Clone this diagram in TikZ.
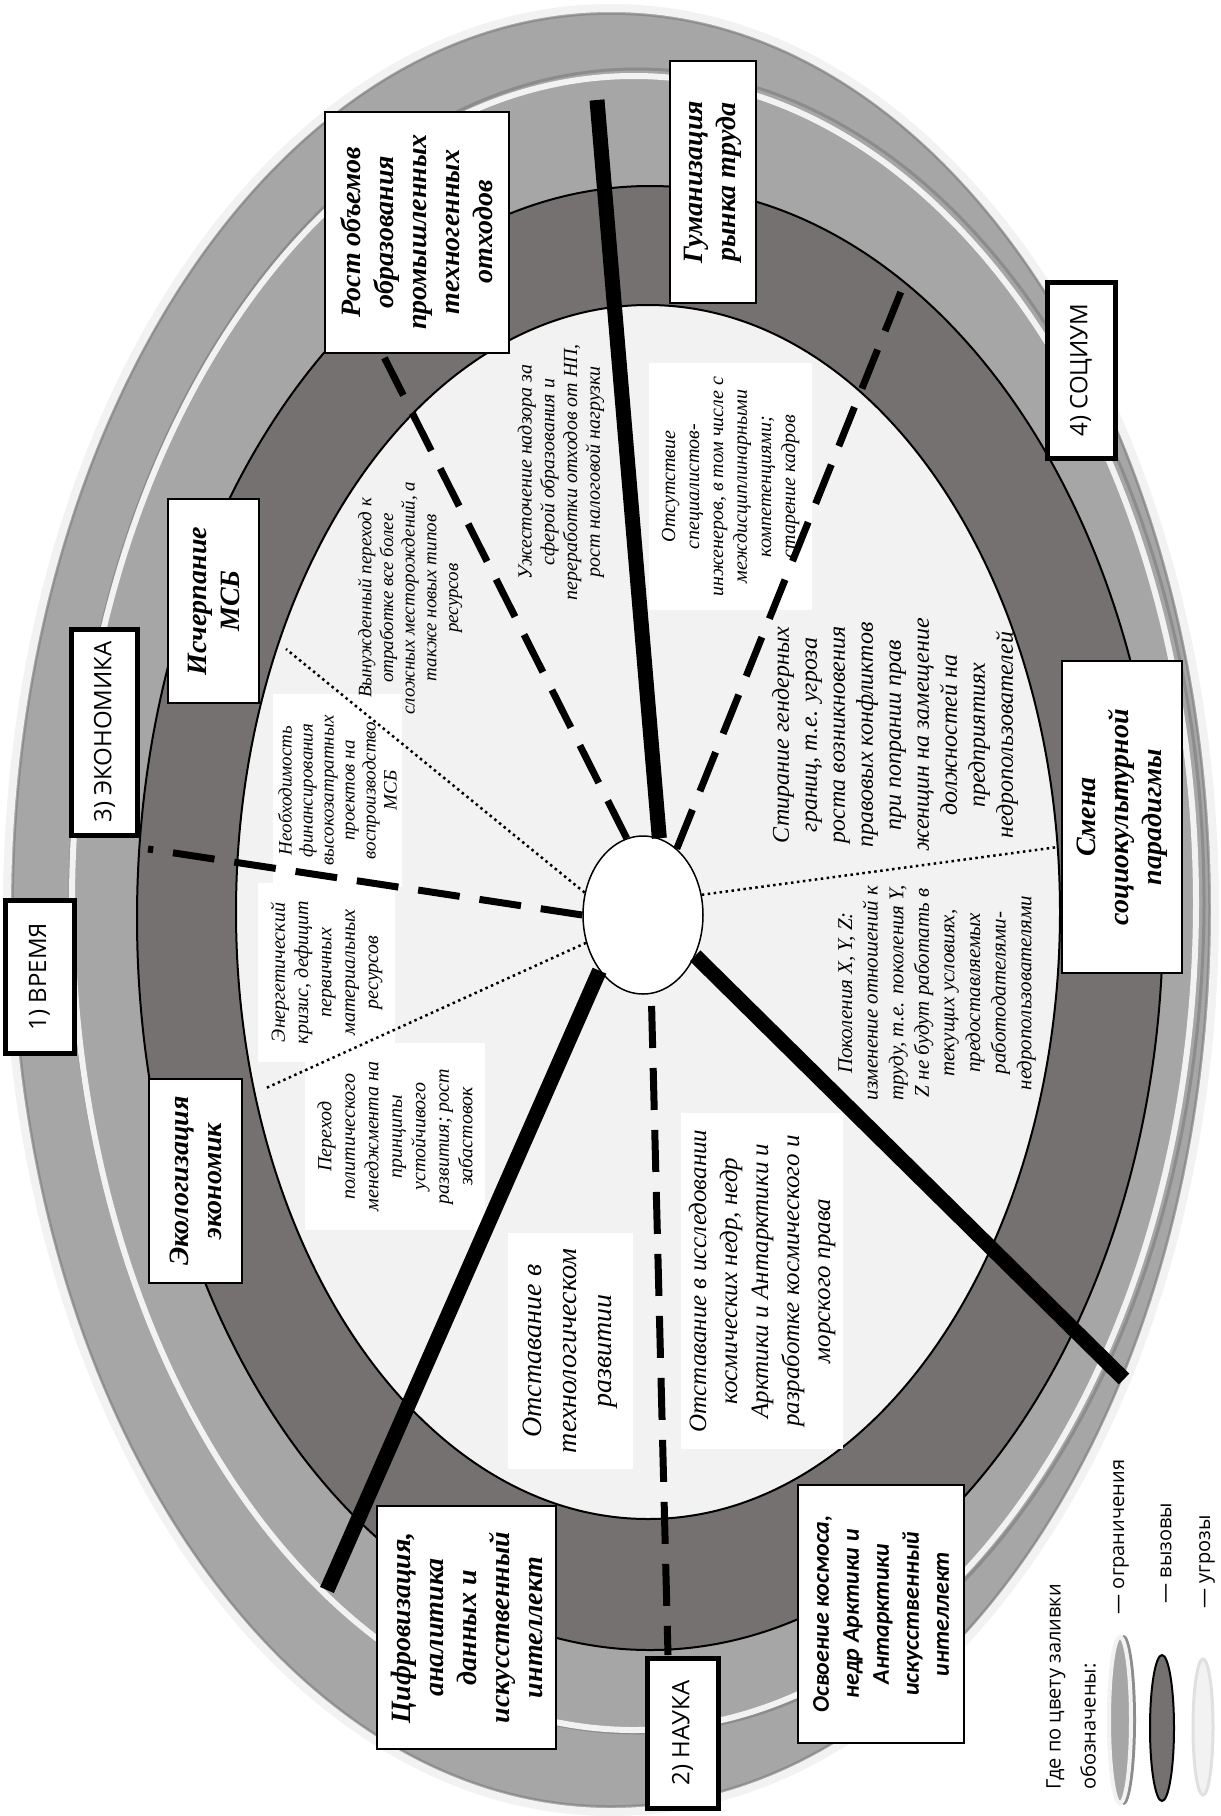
\documentclass[tikz,border=0pt]{standalone}
\usepackage{fontspec}
\setmainfont{Liberation Serif}
\setsansfont{Open Sans}
\newfontfamily\carlito{Carlito}
\usetikzlibrary{shapes.geometric}

\definecolor{limitgray}{HTML}{A6A6A6}
\definecolor{limitedge}{HTML}{F2F2F2}
\definecolor{limitshade}{HTML}{8C8C8C}
\definecolor{challenge}{HTML}{767171}
\definecolor{threat}{HTML}{F2F2F2}

\begin{document}
\begin{tikzpicture}[x=1pt,y=-1pt,
    ringstyle/.style={fill=limitgray,draw=limitedge,line width=8pt},
    hdrbox/.style={draw,line width=2pt,fill=white,rotate=90,align=center,inner sep=0pt,
      font=\fontsize{28}{33}\selectfont\bfseries\itshape},
    catbox/.style={draw,line width=5pt,fill=white,rotate=90,inner sep=0pt,
      font=\fontsize{24}{28}\selectfont\sffamily},
    notebox/.style={fill=white,rotate=90,align=center,inner sep=0pt},
    freetext/.style={rotate=90,align=center,inner sep=0pt},
    solidbar/.style={line width=15pt},
    dashbar/.style={line width=7pt,dash pattern=on 42pt off 20pt},
    dotbar/.style={line width=2.5pt,dash pattern=on 2.5pt off 3.5pt}
  ]

  % page
  \useasboundingbox (0,0) rectangle (1221,1816);
  \fill[white] (0,0) rectangle (1221,1816);

  % restrictions: outer rings
  \draw[ringstyle] (611,910) ellipse (604 and 902);
  \draw[limitshade,line width=1.5pt] (611,910) ellipse (598 and 896);
  \draw[limitshade,line width=3pt] (637,901) ellipse (567 and 832);
  \draw[ringstyle,line width=6pt] (634,903) ellipse (562 and 827);

  % challenges ring and threats disc
  \draw[fill=challenge,line width=2pt] (650,918) ellipse (513 and 732);
  \draw[fill=threat,line width=2pt] (648,912) ellipse (412 and 607);

  % threats: texts in the disc
  \node[notebox,minimum width=193pt,minimum height=129pt,font=\fontsize{19}{21}\selectfont\itshape] (funding) at (337.5,790.5)
    {Необходимость\\финансирования\\высокозатратных\\проектов на\\воспроизводство\\МСБ};
  \node[notebox,minimum width=179pt,minimum height=137pt,font=\fontsize{20}{23.3}\selectfont\itshape] (energy) at (326.5,972.5)
    {Энергетический\\кризис, дефицит\\первичных\\материальных\\ресурсов};
  \node[notebox,minimum width=187pt,minimum height=180pt,font=\fontsize{20}{23.5}\selectfont\itshape] (politics) at (395,1136.5)
    {Переход\\политического\\менеджмента на\\принципы\\устойчивого\\развития; рост\\забастовок};
  \node[notebox,minimum width=247pt,minimum height=163pt,font=\fontsize{20}{24}\selectfont\itshape] (staff) at (730.5,486.5)
    {Отсутствие\\специалистов-\\инженеров, в том числе с\\междисциплинарными\\компетенциями;\\старение кадров};
  \node[notebox,minimum width=236pt,minimum height=125pt,font=\fontsize{28}{35}\selectfont\itshape] (techlag) at (570.5,1351)
    {Отставание в\\технологическом\\развитии};
  \node[notebox,minimum width=336pt,minimum height=162pt,font=\fontsize{25}{31}\selectfont\itshape] (spacelag) at (762,1281)
    {Отставание в исследовании\\космических недр, недр\\Арктики и Антарктики и\\разработке космического и\\морского права};

  \node[freetext,font=\fontsize{19}{21.7}\selectfont\itshape] (deposits) at (410,598)
    {Вынужденный переход к\\отработке все более\\сложных месторождений, а\\также новых типов\\ресурсов};
  \node[freetext,font=\fontsize{20}{22.7}\selectfont\itshape] (control) at (561,472)
    {Ужесточение надзора за\\сферой образования и\\переработки отходов от НП,\\рост налоговой нагрузки};
  \node[freetext,font=\fontsize{24}{28}\selectfont\itshape] (gender) at (895,735)
    {Стирание гендерных\\границ, т.е. угроза\\роста возникновения\\правовых конфликтов\\при попрании прав\\женщин на замещение\\должностей на\\предприятиях\\недропользователей};
  \node[freetext,font=\fontsize{21}{25.6}\selectfont\itshape] (generations) at (937,993)
    {Поколения X, Y, Z:\\изменение отношений к\\труду, т.е. поколения Y,\\Z не будут работать в\\текущих условиях,\\предоставляемых\\работодателями-\\недропользователями};

  % hub
  \node[draw,ellipse,fill=white,line width=1.5pt,minimum width=120pt,minimum height=158pt,inner sep=0pt] (hub) at (643,915) {};

  % spokes
  \coordinate (barN) at (597,100);
  \coordinate (barSW) at (327,1590);
  \coordinate (barSE) at (1124,1379);
  \coordinate (dashNW) at (382,353);
  \coordinate (dashNE) at (904,284);
  \coordinate (dashW) at (148,849);
  \coordinate (dashS) at (668,1655);
  \coordinate (dotNW) at (286,649);
  \coordinate (dotSW) at (264,1089);
  \coordinate (dotE) at (1058,847);
  \draw[solidbar] (hub.78) -- (barN);
  \draw[solidbar] (hub.232) -- (barSW);
  \draw[solidbar] (hub.322) -- (barSE);
  \draw[dashbar] (hub.102) -- (dashNW);
  \draw[dashbar] (hub.63) -- (dashNE);
  \draw[dashbar] (hub.180) -- (dashW);
  \draw[dashbar,dash phase=50pt] (hub.276) -- (dashS);
  \draw[dotbar] (hub.159) -- (dotNW);
  \draw[dotbar] (hub.206) -- (dotSW);
  \draw[dotbar] (hub.19) -- (dotE);

  % challenges: headers
  \node[hdrbox,minimum width=241pt,minimum height=184pt] (waste) at (417,232)
    {Рост объемов\\образования\\промышленных\\техногенных\\отходов};
  \node[hdrbox,minimum width=242pt,minimum height=86pt] (humane) at (713,182)
    {Гуманизация\\рынка труда};
  \node[hdrbox,minimum width=204pt,minimum height=91pt] (msb) at (213.5,601)
    {Исчерпание\\МСБ};
  \node[hdrbox,minimum width=204pt,minimum height=93pt] (ecolog) at (195.5,1181)
    {Экологизация\\экономик};
  \node[hdrbox,minimum width=312pt,minimum height=120pt] (paradigm) at (1122,817)
    {Смена\\социокультурной\\парадигмы};
  \node[hdrbox,minimum width=243pt,minimum height=179pt] (digital) at (466.5,1627.5)
    {Цифровизация,\\аналитика\\данных и\\искусственный\\интеллект};
  \node[hdrbox,minimum width=258pt,minimum height=166pt,font=\fontsize{24}{30}\selectfont\carlito\bfseries\itshape] (space) at (881,1614)
    {Освоение космоса,\\недр Арктики и\\Антарктики\\искусственный\\интеллект};

  % restrictions: labels
  \node[catbox,minimum width=153pt,minimum height=69pt] (time) at (39.5,976.5) {1) ВРЕМЯ};
  \node[catbox,minimum width=206pt,minimum height=66pt] (economy) at (104.5,732) {3) ЭКОНОМИКА};
  \node[catbox,minimum width=176pt,minimum height=68pt] (society) at (1081,370) {4) СОЦИУМ};
  \node[catbox,minimum width=150pt,minimum height=71pt] (science) at (682.5,1733) {2) НАУКА};

  % legend
  \node[freetext,align=left,font=\fontsize{20}{35}\selectfont\sffamily] (legtitle) at (1071,1687)
    {Где по цвету заливки\\обозначены:};
  \node[freetext,font=\fontsize{20}{24}\selectfont\sffamily] (leglimit) at (1121,1537) {— ограничения};
  \node[freetext,font=\fontsize{20}{24}\selectfont\sffamily] (legchal) at (1166,1553) {— вызовы};
  \node[freetext,font=\fontsize{20}{24}\selectfont\sffamily] (legthreat) at (1207,1562) {— угрозы};
  \fill[limitshade] (1124,1720) ellipse (12 and 85);
  \draw[fill=limitgray,draw=limitedge,line width=4pt] (1120,1720) ellipse (11 and 83);
  \draw[fill=challenge,line width=2pt] (1162,1728) ellipse (12 and 73);
  \draw[fill=threat,draw=black!12,line width=3pt] (1203,1727) ellipse (10 and 68);

\end{tikzpicture}
\end{document}
